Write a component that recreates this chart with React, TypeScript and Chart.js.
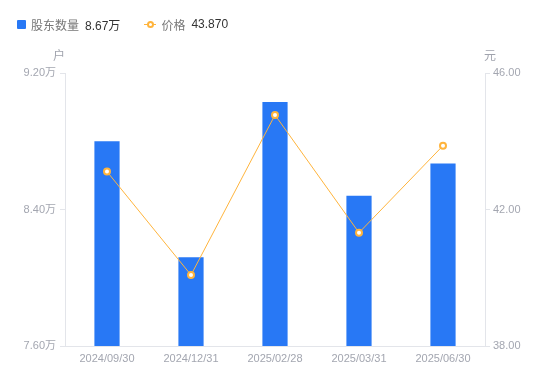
import React, { useEffect, useRef } from "react";
import { Chart, registerables } from "chart.js";

Chart.register(...registerables);

const categories = ["2024/09/30", "2024/12/31", "2025/02/28", "2025/03/31", "2025/06/30"];
const holders = [8.8, 8.12, 9.03, 8.48, 8.67];
const prices = [43.11, 40.08, 44.77, 41.32, 43.87];
const leftTicks = [7.6, 8.4, 9.2];
const rightTicks = [38, 42, 46];

const BLUE = "#2878f5";
const ORANGE = "#ffb43c";
const TICK_COLOR = "#a3a6b0";
const AXIS_COLOR = "#e3e5ea";
const FONT = "'Liberation Sans', 'Noto Sans CJK SC', sans-serif";

const unitPlugin = {
  id: "units",
  afterDraw(chart: any) {
    const { ctx, chartArea } = chart;
    ctx.save();
    ctx.font = `12px ${FONT}`;
    ctx.fillStyle = "#a0a3ad";
    ctx.textAlign = "center";
    ctx.textBaseline = "middle";
    ctx.fillText("户", chartArea.left - 6, chartArea.top - 16);
    ctx.fillText("元", chartArea.right + 5, chartArea.top - 16);
    ctx.restore();
  },
};

export default function App() {
  const ref = useRef<HTMLCanvasElement | null>(null);

  useEffect(() => {
    document.body.style.margin = "0";
    const chart = new Chart(ref.current!, {
      type: "bar",
      data: {
        labels: categories,
        datasets: [
          {
            type: "line",
            label: "价格",
            data: prices,
            yAxisID: "y1",
            borderColor: ORANGE,
            borderWidth: 1,
            pointRadius: 3,
            pointBorderWidth: 2,
            pointBackgroundColor: "#ffffff",
            pointBorderColor: ORANGE,
            tension: 0,
            order: 0,
          } as any,
          {
            type: "bar",
            label: "股东数量",
            data: holders,
            yAxisID: "y",
            backgroundColor: BLUE,
            barPercentage: 0.3,
            categoryPercentage: 1,
            order: 1,
          },
        ],
      },
      options: {
        animation: false,
        responsive: false,
        maintainAspectRatio: false,
        layout: { padding: { top: 73, left: 0, right: 0, bottom: 0 } },
        plugins: { legend: { display: false }, tooltip: { enabled: false } },
        scales: {
          x: {
            grid: { display: false },
            border: { display: true, color: AXIS_COLOR },
            ticks: { color: TICK_COLOR, font: { size: 11, family: FONT }, padding: -2, maxRotation: 0 },
            afterFit: (s: any) => { s.height = 35; },
          },
          y: {
            position: "left",
            min: 7.6,
            max: 9.2,
            afterBuildTicks: (s: any) => { s.ticks = leftTicks.map((v) => ({ value: v })); },
            grid: { display: true, drawOnChartArea: false, tickLength: 5, color: AXIS_COLOR },
            border: { display: true, color: AXIS_COLOR },
            ticks: {
              color: TICK_COLOR,
              font: { size: 11, family: FONT },
              padding: 4,
              callback: (v: any) => Number(v).toFixed(2) + "万",
            },
            afterFit: (s: any) => { s.width = 65; },
          },
          y1: {
            position: "right",
            min: 38,
            max: 46,
            afterBuildTicks: (s: any) => { s.ticks = rightTicks.map((v) => ({ value: v })); },
            grid: { display: true, drawOnChartArea: false, tickLength: 5, color: AXIS_COLOR },
            border: { display: true, color: AXIS_COLOR },
            ticks: {
              color: TICK_COLOR,
              font: { size: 11, family: FONT },
              padding: 3,
              callback: (v: any) => Number(v).toFixed(2),
            },
            afterFit: (s: any) => { s.width = 65; },
          },
        },
      },
      plugins: [unitPlugin],
    });
    return () => chart.destroy();
  }, []);

  const legendText: React.CSSProperties = { fontSize: 12, color: "#777", fontFamily: FONT };
  const legendVal: React.CSSProperties = { fontSize: 12, color: "#333", fontFamily: FONT, marginLeft: 6 };

  return (
    <div style={{ position: "fixed", left: 0, top: 0, width: 550, height: 381, background: "#fff" }}>
      <div style={{ position: "absolute", left: 17, top: 15, height: 18, display: "flex", alignItems: "center", whiteSpace: "nowrap" }}>
        <span style={{ width: 9, height: 9, background: BLUE, borderRadius: 1, marginRight: 5, display: "inline-block" }} />
        <span style={legendText}>股东数量</span>
        <span style={legendVal}>8.67万</span>
        <span style={{ position: "relative", width: 12, height: 9, marginLeft: 24, marginRight: 5, display: "inline-block" }}>
          <span style={{ position: "absolute", left: 0, top: 4, width: 12, height: 1, background: ORANGE }} />
          <span style={{ position: "absolute", left: 2.5, top: 1, width: 3, height: 3, border: `2px solid ${ORANGE}`, borderRadius: "50%", background: "#fff" }} />
        </span>
        <span style={legendText}>价格</span>
        <span style={legendVal}>43.870</span>
      </div>
      <canvas ref={ref} width={550} height={381} style={{ display: "block" }} />
    </div>
  );
}
